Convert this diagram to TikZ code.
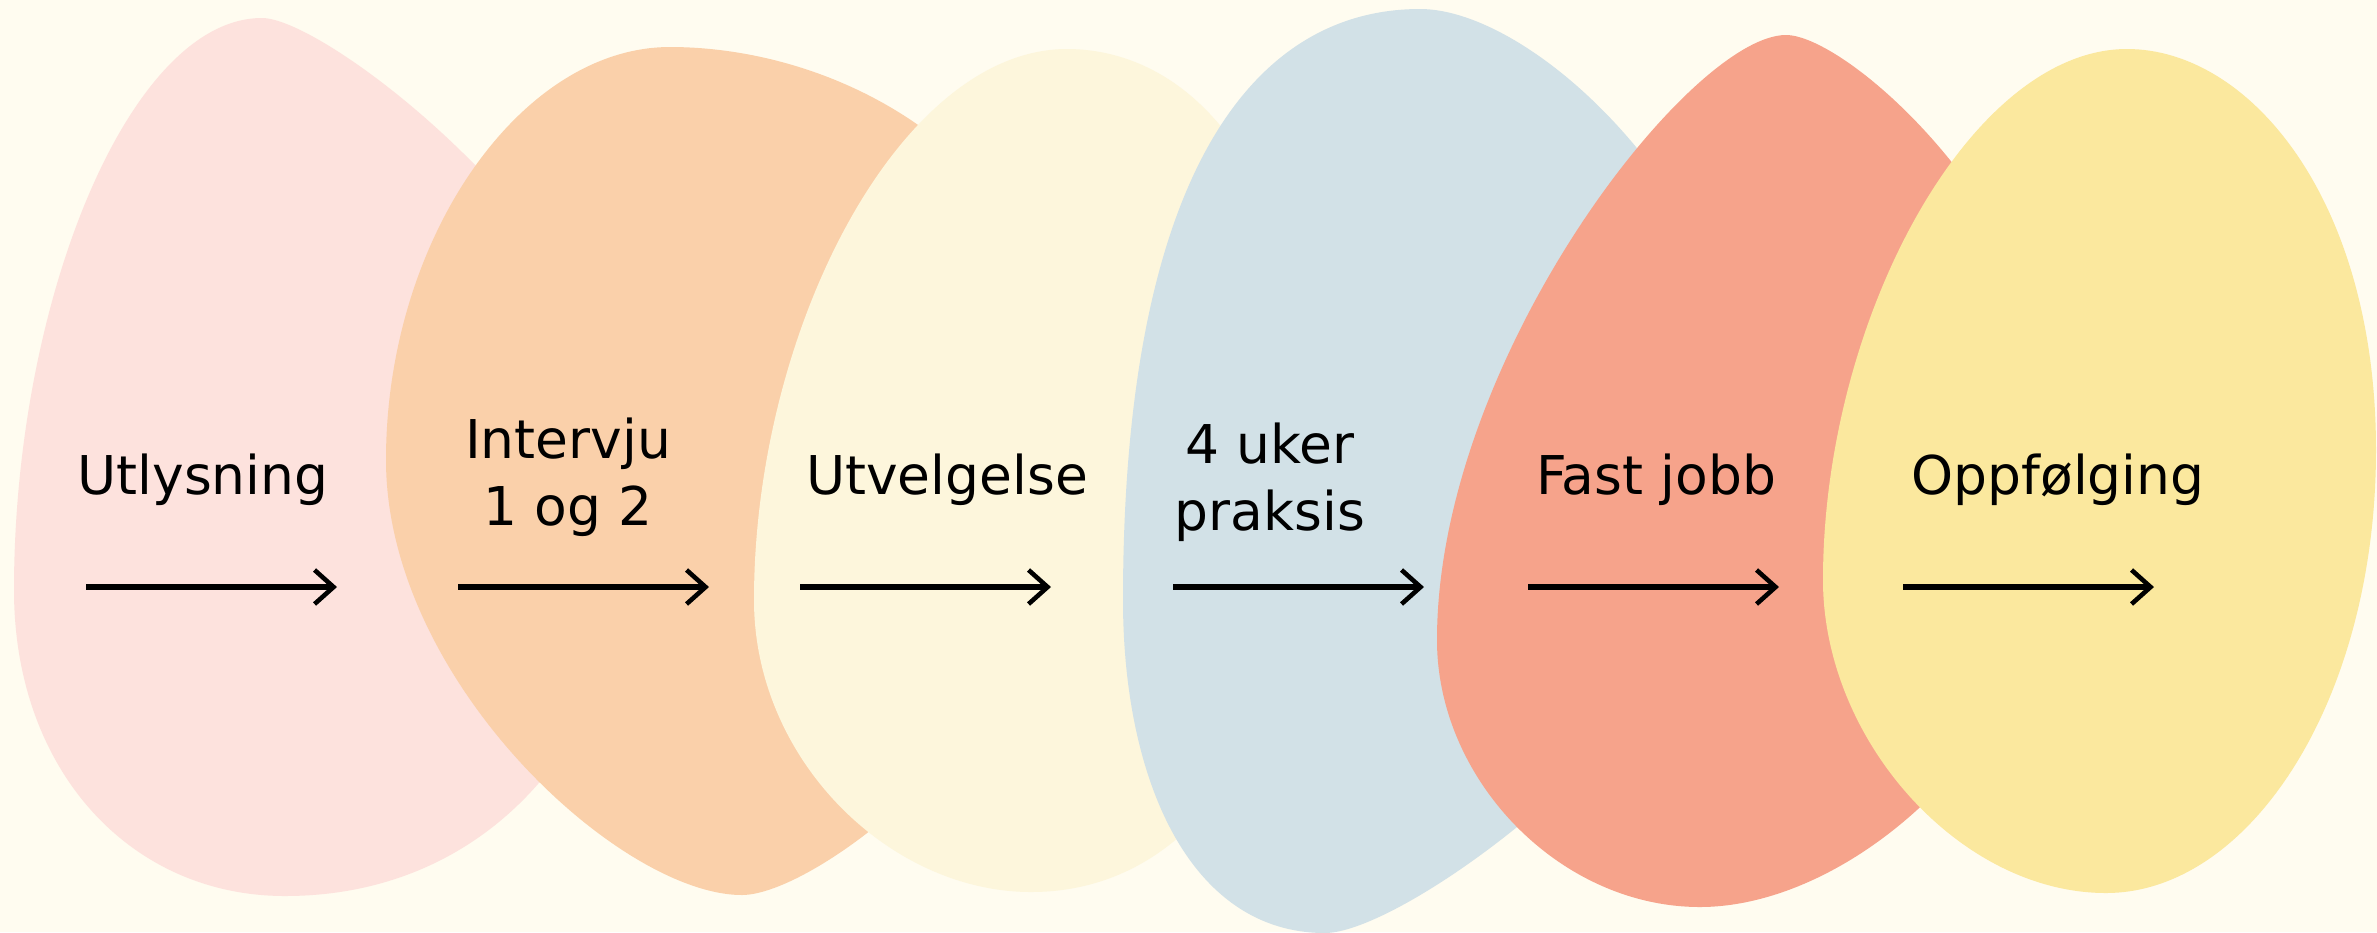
\documentclass[tikz,border=0pt]{standalone}
\usepackage{fontspec}
\setmainfont{DejaVu Sans}
\usetikzlibrary{arrows.meta}
\definecolor{bg}{HTML}{FFFCF0}
\definecolor{rosa}{HTML}{FDE2DD}
\definecolor{fersken}{HTML}{FAD0AA}
\definecolor{krem}{HTML}{FDF6DC}
\definecolor{dueblaa}{HTML}{D2E1E7}
\definecolor{laks}{HTML}{F6A38B}
\definecolor{gul}{HTML}{FBE89E}
\begin{document}
\begin{tikzpicture}[x=0.01cm, y=-0.01cm,
  steptext/.style={font=\fontsize{15.2}{19}\selectfont, align=center, anchor=base},
  flow/.style={line width=1.8pt, -{Straight Barb[length=0.19cm, width=0.34cm, line width=1.3pt]}}]
\useasboundingbox (0,0) rectangle (2377,932);
\fill[bg] (0,0) rectangle (2377,932);
\fill[rosa] (262,18) .. controls (330,18) and (640,260) .. (640,480)
  .. controls (640,720) and (500,896) .. (285,896)
  .. controls (130,896) and (14,770) .. (14,590)
  .. controls (14,300) and (130,18) .. cycle;
\fill[fersken] (670,47) .. controls (850,47) and (1080,170) .. (1080,450)
  .. controls (1080,700) and (820,895) .. (742,895)
  .. controls (620,895) and (386,680) .. (386,460)
  .. controls (386,240) and (520,47) .. cycle;
\fill[krem] (1067,49) .. controls (1190,49) and (1310,170) .. (1310,450)
  .. controls (1310,720) and (1200,892) .. (1031,892)
  .. controls (890,892) and (754,760) .. (754,600)
  .. controls (754,330) and (900,49) .. cycle;
\fill[dueblaa] (1420,9) .. controls (1540,9) and (1760,220) .. (1760,470)
  .. controls (1740,690) and (1410,933) .. (1325,933)
  .. controls (1190,933) and (1123,780) .. (1123,600)
  .. controls (1123,180) and (1250,9) .. cycle;
\fill[laks] (1786,35) .. controls (1850,35) and (2070,230) .. (2070,470)
  .. controls (2070,720) and (1860,907) .. (1700,907)
  .. controls (1560,907) and (1437,780) .. (1437,640)
  .. controls (1437,360) and (1690,35) .. cycle;
\fill[gul] (2127,49) .. controls (2250,49) and (2376,200) .. (2376,450)
  .. controls (2376,700) and (2250,893) .. (2106,893)
  .. controls (1960,893) and (1823,740) .. (1823,580)
  .. controls (1823,320) and (1970,49) .. cycle;
\node[steptext] (utlysning) at (203,494) {Utlysning};
\node[steptext] (intervju) at (568,525) {Intervju\\1 og 2};
\node[steptext] (utvelgelse) at (947,494) {Utvelgelse};
\node[steptext] (praksis) at (1270,530) {4 uker\\praksis};
\node[steptext] (jobb) at (1656,494) {Fast jobb};
\node[steptext] (oppfolging) at (2058,494) {Oppfølging};
\foreach \n/\xs in {1/86,2/458,3/800,4/1173,5/1528,6/1903} {
  \coordinate (s\n) at (\xs,587);
  \coordinate (e\n) at (\xs+251,587);
  \draw[flow] (s\n) -- (e\n);
}
\end{tikzpicture}
\end{document}
